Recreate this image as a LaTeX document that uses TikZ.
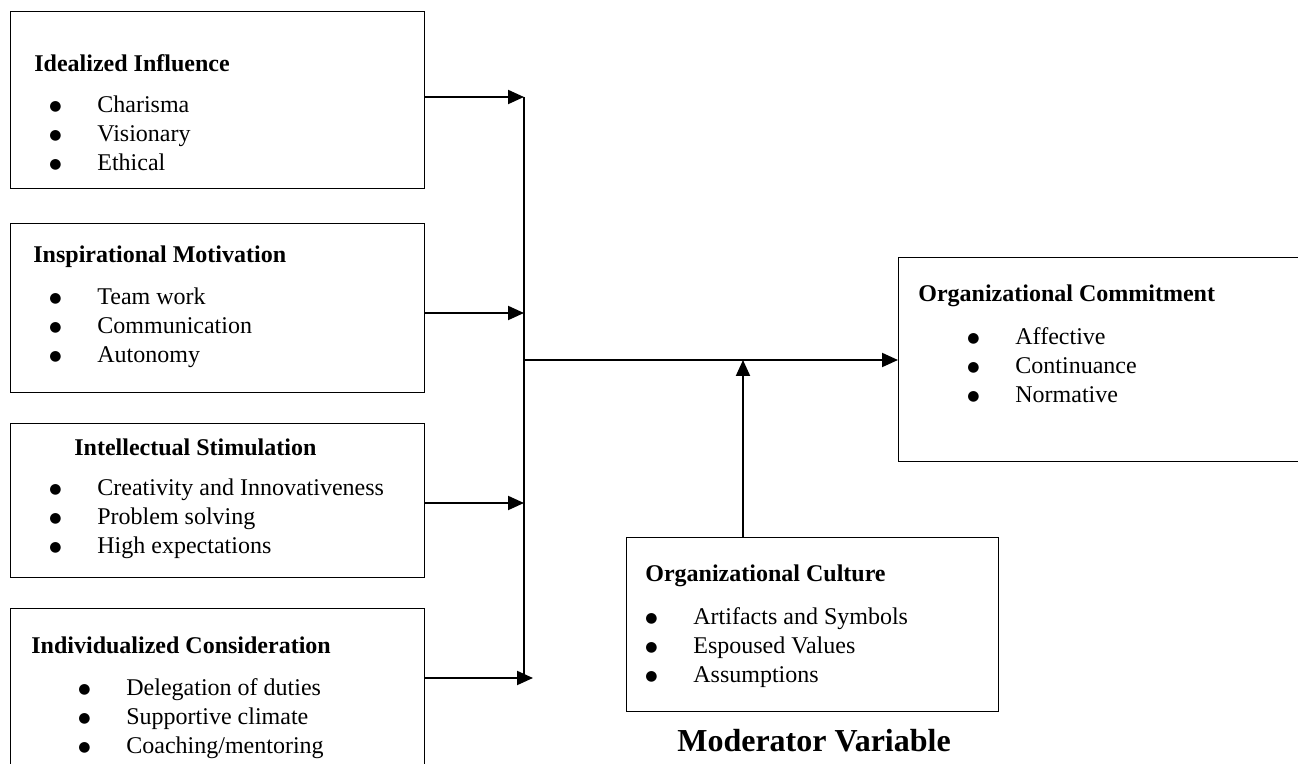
\documentclass[tikz,border=0pt]{standalone}
\usepackage{fontspec}
\setmainfont{Liberation Serif}
\newfontfamily\symfont{DejaVu Sans}
\usetikzlibrary{arrows.meta,positioning}

\newcommand{\bul}{\makebox[24pt][l]{\raisebox{1.4pt}{\symfont\fontsize{7}{7}\selectfont ●}}}

\begin{document}
\begin{tikzpicture}[
    x=0.5pt, y=-0.5pt,
    box/.style={draw, line width=0.7pt, anchor=north west, inner sep=0pt},
    head/.style={anchor=base west, inner sep=0pt, font=\fontsize{12}{14.5}\selectfont\bfseries},
    item/.style={anchor=base west, inner sep=0pt, font=\fontsize{12}{14.5}\selectfont},
    link/.style={-{Triangle[length=8pt,width=7pt]}, line width=1pt},
    bus/.style={line width=1pt}
]
\useasboundingbox (0,0) rectangle (1298,764);
\clip (0,0) rectangle (1298,764);

\node[box, minimum width=207pt, minimum height=88.5pt] (ii) at (10,11) {};
\node[box, minimum width=207pt, minimum height=84.5pt] (im) at (10,223) {};
\node[box, minimum width=207pt, minimum height=77pt] (is) at (10,423) {};
\node[box, minimum width=207pt, minimum height=100pt] (ic) at (10,608) {};
\node[box, minimum width=211pt, minimum height=102pt] (oc) at (898,257) {};
\node[box, minimum width=186pt, minimum height=87pt] (cult) at (626,537) {};

\node[head] (ii-h) at (34,72) {Idealized Influence};
\foreach \t [count=\i from 0] in {Charisma, Visionary, Ethical}
    \node[item] (ii-\i) at (49,113+29*\i) {\bul\t};

\node[head] (im-h) at (33,263) {Inspirational Motivation};
\foreach \t [count=\i from 0] in {Team work, Communication, Autonomy}
    \node[item] (im-\i) at (49,305+29*\i) {\bul\t};

\node[head] (is-h) at (74,456) {Intellectual Stimulation};
\foreach \t [count=\i from 0] in {Creativity and Innovativeness, Problem solving, High expectations}
    \node[item] (is-\i) at (49,496+29*\i) {\bul\t};

\node[head] (ic-h) at (31,654) {Individualized Consideration};
\foreach \t [count=\i from 0] in {Delegation of duties, Supportive climate, Coaching/mentoring}
    \node[item] (ic-\i) at (78,696+29*\i) {\bul\t};

\node[head] (oc-h) at (918,302) {Organizational Commitment};
\foreach \t [count=\i from 0] in {Affective, Continuance, Normative}
    \node[item] (oc-\i) at (967,345+29*\i) {\bul\t};

\node[head] (cult-h) at (645,582) {Organizational Culture};
\foreach \t [count=\i from 0] in {Artifacts and Symbols, Espoused Values, Assumptions}
    \node[item] (cult-\i) at (645,625+29*\i) {\bul\t};

\node[font=\fontsize{16}{19}\selectfont\bfseries] (mod) at (814,741) {Moderator Variable};

\coordinate (t1) at (524,97);
\coordinate (t2) at (524,313);
\coordinate (t3) at (524,503);
\coordinate (t4) at (533,678);
\coordinate (hub) at (524,360);
\coordinate (mtap) at (743,360);

\draw[bus] (t1) -- (t1 |- t4);
\draw[link] (ii.east |- t1) -- (t1);
\draw[link] (im.east |- t2) -- (t2);
\draw[link] (is.east |- t3) -- (t3);
\draw[link] (ic.east |- t4) -- (t4);
\draw[link] (hub) -- (oc.west |- hub);
\draw[link] (cult.north -| mtap) -- (mtap);
\end{tikzpicture}
\end{document}
